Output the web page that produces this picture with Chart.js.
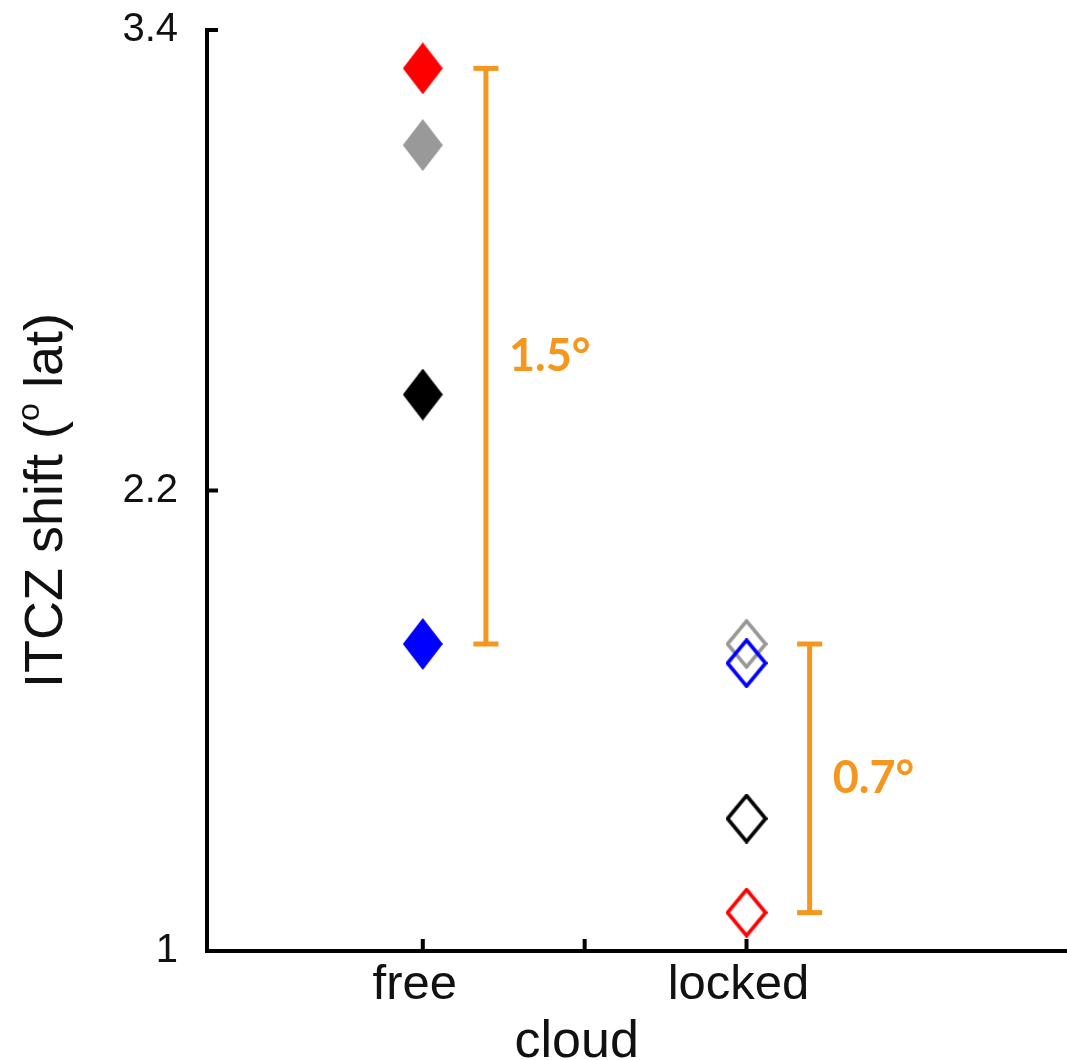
<!DOCTYPE html>
<html>
<head>
<meta charset="utf-8">
<title>ITCZ shift</title>
<script src="https://cdn.jsdelivr.net/npm/chart.js@4.4.1/dist/chart.umd.min.js"></script>
<style>
  html, body { margin: 0; padding: 0; background: #fff; }
  #wrap { width: 1067px; height: 1060px; }
</style>
</head>
<body>
<div id="wrap"><canvas id="shiftChart" width="1067" height="1060"></canvas></div>
<script>
// cloud treatment on the x axis, one value per model run
const categories = ["free", "locked"];
const categoryX = [1, 2];
const redShift = [3.3, 1.1];
const grayShift = [3.1, 1.8];
const blackShift = [2.45, 1.345];
const blueShift = [1.8, 1.75];

const yTicks = [1, 2.2, 3.4];
const xTicks = [1, 1.5, 2];
const xTitle = "cloud";

const FONT = "'Liberation Sans', Arial, Helvetica, sans-serif";
const ORANGE = "#f5961e";
const spreadOffset = 0.195;

// diamond markers: filled for free clouds, outlined for locked clouds
function diamond(color, filled) {
  const w = filled ? 40 : 42;
  const h = filled ? 52 : 50;
  const c = document.createElement("canvas");
  c.width = w;
  c.height = h;
  const g = c.getContext("2d");
  const p = filled ? 0 : 2;
  g.beginPath();
  g.moveTo(w / 2, p);
  g.lineTo(w - p, h / 2);
  g.lineTo(w / 2, h - p);
  g.lineTo(p, h / 2);
  g.closePath();
  if (filled) {
    g.fillStyle = color;
    g.fill();
  } else {
    g.strokeStyle = color;
    g.lineWidth = 3.6;
    g.stroke();
  }
  return c;
}

const models = [
  { values: redShift, color: "#ff0000" },
  { values: grayShift, color: "#999999" },
  { values: blackShift, color: "#000000" },
  { values: blueShift, color: "#0000ff" },
];

const pointSets = models.map((m, i) => ({
  data: categoryX.map((x, j) => ({ x: x, y: m.values[j] })),
  pointStyle: [diamond(m.color, true), diamond(m.color, false)],
  pointRadius: 20,
  showLine: false,
  order: models.length - i + 1,
}));

// range across the models for each treatment
const spreads = categoryX.map((x, j) => {
  const vals = models.map((m) => m.values[j]);
  return { x: x + spreadOffset, lo: Math.min(...vals), hi: Math.max(...vals) };
});

const spreadSets = spreads.map((s) => ({
  data: [{ x: s.x, y: s.lo }, { x: s.x, y: s.hi }],
  showLine: true,
  borderColor: ORANGE,
  borderWidth: 5,
  pointStyle: "line",
  pointRadius: 12.5,
  pointBorderWidth: 5,
  pointBorderColor: ORANGE,
  order: 10,
}));

const spreadLabels = {
  id: "spreadLabels",
  afterDatasetsDraw(chart) {
    const { ctx, scales } = chart;
    ctx.save();
    ctx.fillStyle = ORANGE;
    ctx.font = "bold 45px Lato, 'Open Sans', sans-serif";
    ctx.textAlign = "left";
    ctx.textBaseline = "middle";
    spreads.forEach((s) => {
      const px = scales.x.getPixelForValue(s.x);
      const py = scales.y.getPixelForValue((s.lo + s.hi) / 2);
      ctx.fillText((s.hi - s.lo).toFixed(1) + "\u00b0", px + 23, py);
    });
    ctx.restore();
  },
};

// tick marks point into the plot
const innerTicks = {
  id: "innerTicks",
  afterDraw(chart) {
    const { ctx, chartArea, scales } = chart;
    ctx.save();
    ctx.strokeStyle = "#000";
    ctx.lineWidth = 4;
    ctx.beginPath();
    yTicks.forEach((v) => {
      const py = scales.y.getPixelForValue(v);
      ctx.moveTo(chartArea.left, py);
      ctx.lineTo(chartArea.left + 11, py);
    });
    xTicks.forEach((v) => {
      const px = scales.x.getPixelForValue(v);
      ctx.moveTo(px, chartArea.bottom);
      ctx.lineTo(px, chartArea.bottom - 12);
    });
    ctx.stroke();
    ctx.restore();
  },
};

const axisTitles = {
  id: "axisTitles",
  afterDraw(chart) {
    const { ctx, chartArea, scales } = chart;
    ctx.save();
    ctx.fillStyle = "#111";
    ctx.textBaseline = "alphabetic";

    // x title
    ctx.font = "52px " + FONT;
    ctx.textAlign = "center";
    ctx.fillText(xTitle, scales.x.getPixelForValue(1.5) - 8, 1057);

    // y title with a raised degree "o"
    const parts = [
      { text: "ITCZ shift (", font: "54px " + FONT, rise: 0 },
      { text: "o", font: "32px " + FONT, rise: -23 },
      { text: " lat)", font: "54px " + FONT, rise: 0 },
    ];
    let total = 0;
    parts.forEach((p) => {
      ctx.font = p.font;
      p.w = ctx.measureText(p.text).width;
      total += p.w;
    });
    const cy = (chartArea.top + chartArea.bottom) / 2 + 10;
    ctx.translate(43, cy);
    ctx.rotate(-Math.PI / 2);
    ctx.textAlign = "left";
    let x = -total / 2;
    parts.forEach((p) => {
      ctx.font = p.font;
      ctx.fillText(p.text, x, 19 + p.rise);
      x += p.w;
    });
    ctx.restore();
  },
};

new Chart(document.getElementById("shiftChart"), {
  type: "scatter",
  data: { datasets: [...pointSets, ...spreadSets] },
  options: {
    responsive: false,
    animation: false,
    devicePixelRatio: 1,
    layout: { autoPadding: false, padding: { top: 30, right: 0, bottom: 0, left: 0 } },
    plugins: { legend: { display: false }, tooltip: { enabled: false } },
    scales: {
      x: {
        type: "linear",
        position: "bottom",
        min: 1 / 3,
        max: 2.99,
        afterBuildTicks: (scale) => {
          scale.ticks = xTicks.map((v) => ({ value: v }));
        },
        afterFit: (scale) => {
          scale.height = 109;
          scale.paddingLeft = 0;
          scale.paddingRight = 0;
        },
        grid: { display: false },
        border: { display: true, color: "#000", width: 4 },
        ticks: {
          padding: -3,
          labelOffset: -8,
          color: "#111",
          font: { family: FONT, size: 49, lineHeight: 1.2 },
          maxRotation: 0,
          autoSkip: false,
          callback: (v) => {
            const i = categoryX.indexOf(v);
            return i >= 0 ? categories[i] : "";
          },
        },
      },
      y: {
        type: "linear",
        min: 1,
        max: 3.4,
        afterBuildTicks: (scale) => {
          scale.ticks = yTicks.map((v) => ({ value: v }));
        },
        afterFit: (scale) => {
          scale.width = 207;
          scale.paddingTop = 0;
          scale.paddingBottom = 0;
        },
        grid: { display: false },
        border: { display: true, color: "#000", width: 4 },
        ticks: {
          padding: 21,
          color: "#111",
          font: { family: FONT, size: 40 },
          callback: (v) => String(v),
        },
      },
    },
  },
  plugins: [spreadLabels, innerTicks, axisTitles],
});
</script>
</body>
</html>
